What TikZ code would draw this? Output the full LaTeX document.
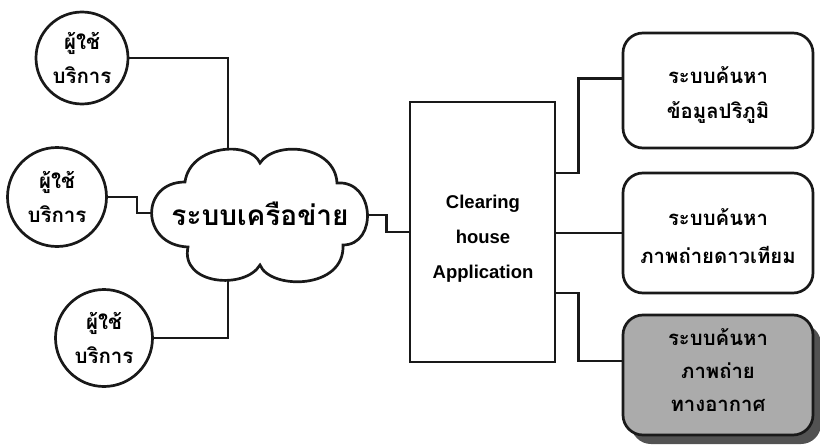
\documentclass[tikz,border=0pt]{standalone}
\usepackage{fontspec}
\setmainfont{Liberation Sans}
\newfontfamily\thai[Script=Thai]{Loma}
\usetikzlibrary{backgrounds,calc,shadows}
\begin{document}
\begin{tikzpicture}[x=1pt,y=-1pt,
  conn/.style={line width=2.7pt, black!90},
  user/.style={circle, draw=black!90, line width=2.7pt, inner sep=0pt, align=center,
    font=\thai\bfseries\fontsize{20.5}{34}\selectfont},
  sysbox/.style={draw=black!90, line width=2.7pt, rounded corners=20pt, minimum width=190pt,
    minimum height=116pt},
  systext/.style={align=center, font=\thai\bfseries\fontsize{20.3}{35}\selectfont},
]
\useasboundingbox (0,0) rectangle (820,447);

% users
\node[user, minimum size=92pt] (u1) at (82,58) {ผู้ใช้\\บริการ};
\node[user, minimum size=99pt] (u2) at (57,197) {ผู้ใช้\\บริการ};
\node[user, minimum size=97pt] (u3) at (104,338) {ผู้ใช้\\บริการ};

% cloud
\draw[conn, fill=white] (185,182) .. controls (190,145) and (250,140) .. (260,163)
  .. controls (275,140) and (335,145) .. (337,183)
  .. controls (375,180) and (378,245) .. (343,245)
  .. controls (345,290) and (270,290) .. (260,265)
  .. controls (245,290) and (180,285) .. (188,247)
  .. controls (140,245) and (140,182) .. (185,182) -- cycle;
\node[font=\thai\bfseries\fontsize{28}{34}\selectfont] (net) at (260,214) {ระบบเครือข่าย};
\coordinate (ctop) at (228,160);
\coordinate (cbot) at (228,272);
\coordinate (cleft) at (160,213);
\coordinate (cright) at (362,215);

% clearing house
\node[draw=black!90, line width=2.7pt, minimum width=145pt, minimum height=260pt] (app) at (482.5,232) {};
\node[align=center, font=\bfseries\fontsize{18.5}{35}\selectfont] (apptext) at (483,239) {Clearing\\house\\Application};

% systems
\node[sysbox, minimum height=115pt] (bA) at (718,90.5) {};
\node[systext] (tA) at (718,95.5) {ระบบค้นหา\\ข้อมูลปริภูมิ};
\node[sysbox, minimum height=120pt] (bB) at (718,233) {};
\node[systext, font=\thai\bfseries\fontsize{20.3}{38}\selectfont] (tB) at (718,236) {ระบบค้นหา\\ภาพถ่ายดาวเทียม};
\node[sysbox, minimum height=120pt, fill=black!33,
  drop shadow={shadow xshift=8pt, shadow yshift=-9pt, fill=black!68, opacity=1}] (bC) at (718,375) {};
\node[systext, font=\thai\bfseries\fontsize{20.3}{33}\selectfont] (tC) at (718,370) {ระบบค้นหา\\ภาพถ่าย\\ทางอากาศ};

\begin{scope}[on background layer]
\draw[conn] (u1.east) -| (ctop);
\draw[conn] (u2.east) -- ++(29,0) |- (cleft);
\draw[conn] (cbot) |- (u3.east);
\draw[conn] (cright) -| ([xshift=-22pt]app.west) -- (app.west);
\draw[conn] ([yshift=59pt]app.east) -- ++(22,0) |- ([yshift=12pt]bA.west);
\draw[conn] (app.east |- bB.west) -- (bB.west);
\draw[conn] ([yshift=-61pt]app.east) -- ++(22,0) |- ([yshift=14pt]bC.west);
\end{scope}
\end{tikzpicture}
\end{document}
